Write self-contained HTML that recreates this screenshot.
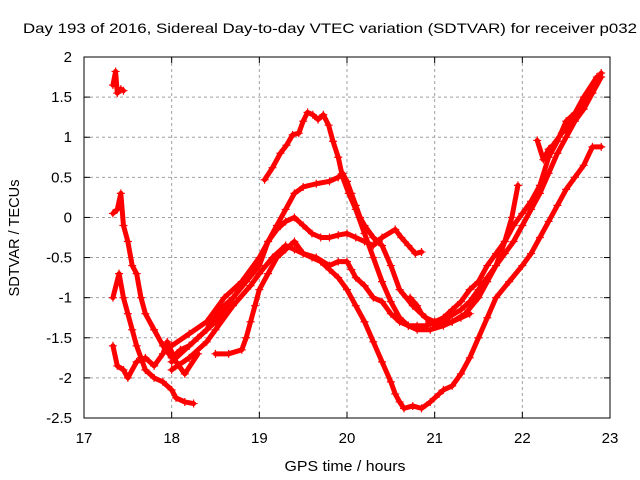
<!DOCTYPE html>
<html><head><meta charset="utf-8"><style>
body{margin:0;background:#fff}
svg{display:block;font-family:"Liberation Sans",sans-serif}
</style></head><body>
<svg id="chart" width="640" height="480">
<rect width="640" height="480" fill="#fff"/>
<text x="330" y="33" font-size="14" textLength="614" lengthAdjust="spacingAndGlyphs" text-anchor="middle">Day 193 of 2016, Sidereal Day-to-day VTEC variation (SDTVAR) for receiver p032</text>
<text x="345" y="471" font-size="15" textLength="121" lengthAdjust="spacingAndGlyphs" text-anchor="middle">GPS time / hours</text>
<text transform="translate(19,238) rotate(-90)" font-size="15" textLength="117" lengthAdjust="spacingAndGlyphs" text-anchor="middle">SDTVAR / TECUs</text>
<g id="grid"></g><g id="ticks"></g><g id="series"></g>
<rect x="84" y="57" width="526" height="361" fill="none" stroke="#000" stroke-width="1"/>
</svg>
<script>
const xTicks=[17,18,19,20,21,22,23];
const yTicks=[2,1.5,1,0.5,0,-0.5,-1,-1.5,-2,-2.5];
const yTickLabels=["2","1.5","1","0.5","0","-0.5","-1","-1.5","-2","-2.5"];
const s1x=[17.33,17.36,17.38,17.42,17.45];
const s1y=[1.65,1.82,1.55,1.6,1.58];
const s2x=[17.33,17.38,17.42,17.45,17.5,17.55,17.6,17.65,17.7,17.8,17.9,18.0,18.1,18.2,18.3,18.5,18.7];
const s2y=[0.05,0.1,0.3,-0.1,-0.3,-0.6,-0.7,-1.0,-1.2,-1.4,-1.6,-1.75,-1.65,-1.6,-1.5,-1.3,-1.0];
const s3x=[17.33,17.4,17.45,17.5,17.55,17.6,17.65,17.7,17.8,17.9,18.0,18.05,18.15,18.25];
const s3y=[-1.0,-0.7,-1.0,-1.2,-1.4,-1.6,-1.75,-1.9,-2.0,-2.05,-2.15,-2.25,-2.3,-2.32];
const s4x=[17.33,17.38,17.45,17.5,17.6,17.7,17.8,17.9,17.95,18.05,18.15,18.3];
const s4y=[-1.6,-1.85,-1.9,-2.0,-1.8,-1.75,-1.85,-1.7,-1.55,-1.8,-1.95,-1.7];
const s5x=[19.06,19.15,19.24,19.31,19.38,19.45,19.5,19.55,19.61,19.67,19.73,19.79,19.84,19.9,19.95,20.02,20.1,20.2,20.3,20.4,20.5,20.6,20.7,20.8,20.95,21.1,21.2,21.35,21.5,21.6,21.7,21.8,21.88,21.95];
const s5y=[0.47,0.62,0.8,0.9,1.03,1.05,1.2,1.31,1.28,1.22,1.28,1.15,0.95,0.75,0.5,0.3,0.1,-0.2,-0.5,-0.8,-1.05,-1.25,-1.35,-1.4,-1.4,-1.35,-1.3,-1.2,-1.0,-0.8,-0.6,-0.3,0.0,0.4];
const s6x=[18.0,18.2,18.4,18.5,18.7,18.85,19.0,19.1,19.2,19.3,19.4,19.5,19.65,19.8,19.9,19.95,20.0,20.05,20.1,20.15,20.2,20.3,20.4,20.5,20.6,20.75,20.9,21.0,21.15,21.3,21.4,21.5,21.6,21.7,21.8,21.9,22.0,22.1,22.2,22.3,22.4,22.5,22.6,22.7,22.8,22.9];
const s6y=[-1.8,-1.6,-1.4,-1.2,-1.0,-0.8,-0.6,-0.3,-0.1,0.1,0.3,0.38,0.42,0.45,0.5,0.55,0.45,0.3,0.15,0.0,-0.1,-0.25,-0.35,-0.6,-0.9,-1.1,-1.25,-1.3,-1.25,-1.15,-1.05,-0.9,-0.75,-0.6,-0.45,-0.3,-0.1,0.1,0.3,0.55,0.8,1.0,1.2,1.35,1.55,1.75];
const s7x=[18.0,18.2,18.4,18.6,18.8,19.0,19.1,19.2,19.3,19.4,19.5,19.6,19.7,19.8,19.9,20.0,20.1,20.2,20.3,20.4,20.55,20.62,20.7,20.78,20.85];
const s7y=[-1.6,-1.45,-1.3,-1.0,-0.8,-0.5,-0.3,-0.15,-0.05,0.0,-0.1,-0.2,-0.25,-0.25,-0.22,-0.2,-0.25,-0.3,-0.35,-0.25,-0.15,-0.25,-0.35,-0.45,-0.43];
const s8x=[18.5,18.65,18.8,18.85,18.9,18.95,19.0,19.1,19.2,19.3,19.4,19.5,19.6,19.7,19.8,19.9,20.0,20.1,20.2,20.3,20.4,20.5,20.55,20.6,20.65,20.75,20.85,20.95,21.05,21.1,21.2,21.3,21.4,21.5,21.6,21.7,21.85,22.0,22.1,22.2,22.3,22.4,22.5,22.6,22.7,22.8,22.9];
const s8y=[-1.7,-1.7,-1.65,-1.5,-1.3,-1.1,-0.9,-0.7,-0.5,-0.4,-0.3,-0.45,-0.5,-0.55,-0.65,-0.75,-0.9,-1.1,-1.3,-1.55,-1.8,-2.05,-2.2,-2.3,-2.38,-2.35,-2.38,-2.3,-2.2,-2.15,-2.1,-1.95,-1.75,-1.5,-1.25,-1.0,-0.8,-0.6,-0.45,-0.25,-0.05,0.15,0.35,0.5,0.65,0.88,0.88];
const s9x=[18.0,18.2,18.4,18.5,18.7,18.9,19.0,19.15,19.3,19.4,19.5,19.65,19.8,19.9,20.0,20.05,20.1,20.2,20.3,20.4,20.5,20.6,20.7,20.8,20.9,21.0,21.1,21.2,21.3,21.4,21.5,21.6,21.7,21.8,21.9,22.0,22.1,22.2,22.3,22.4,22.5,22.6,22.7,22.85];
const s9y=[-1.9,-1.75,-1.55,-1.4,-1.1,-0.85,-0.7,-0.5,-0.35,-0.4,-0.45,-0.5,-0.6,-0.55,-0.55,-0.65,-0.75,-0.85,-1.0,-1.05,-1.2,-1.3,-1.35,-1.35,-1.35,-1.3,-1.25,-1.15,-1.05,-0.9,-0.8,-0.6,-0.45,-0.3,-0.1,0.05,0.2,0.4,0.75,0.95,1.2,1.3,1.5,1.75];
const s10x=[20.72,20.8,20.85,20.95,21.0,21.1,21.2,21.3,21.4];
const s10y=[-1.0,-1.1,-1.2,-1.3,-1.35,-1.3,-1.3,-1.25,-1.2];
const s11x=[22.17,22.24,22.3,22.35,22.45,22.5,22.6,22.65,22.75,22.8,22.9];
const s11y=[0.96,0.72,0.85,0.9,1.05,1.1,1.25,1.35,1.5,1.6,1.8];
const allX=[s1x,s2x,s3x,s4x,s5x,s6x,s7x,s8x,s9x,s10x,s11x];
const allY=[s1y,s2y,s3y,s4y,s5y,s6y,s7y,s8y,s9y,s10y,s11y];
const NS="http://www.w3.org/2000/svg";
function xs(v){return 84+(v-17)*526/6;}
function ys(v){return 57+(2-v)*361/4.5;}
const grid=document.getElementById('grid'),ticks=document.getElementById('ticks'),ser=document.getElementById('series');
function mk(t,a,p){const e=document.createElementNS(NS,t);for(const k in a)e.setAttribute(k,a[k]);p.appendChild(e);return e;}
xTicks.forEach(t=>{
 const x=xs(t);
 if(t>17&&t<23){const g=mk('line',{x1:x,x2:x,y1:57,y2:418,stroke:'#a0a0a0','stroke-dasharray':'3,3'},grid);
 
 }
 mk('line',{x1:x,x2:x,y1:418,y2:412,stroke:'#000'},ticks);
 mk('line',{x1:x,x2:x,y1:57,y2:63,stroke:'#000'},ticks);
 const l=mk('text',{x:x,y:443,'font-size':15,'text-anchor':'middle'},ticks);l.textContent=t;
 
 
});
yTicks.forEach((t,i)=>{
 const y=ys(t);
 if(t<2&&t>-2.5){const g=mk('line',{x1:84,x2:610,y1:y,y2:y,stroke:'#a0a0a0','stroke-dasharray':'3,3'},grid);
 
 }
 mk('line',{x1:84,x2:90,y1:y,y2:y,stroke:'#000'},ticks);
 mk('line',{x1:610,x2:604,y1:y,y2:y,stroke:'#000'},ticks);
 const l=mk('text',{x:72,y:y+5,'font-size':15,'text-anchor':'end'},ticks);l.textContent=yTickLabels[i];
 
 
});
allX.forEach((X,si)=>{
 const Y=allY[si];
 const g=mk('g',{},ser);
 
 
 const pts=X.map((x,i)=>xs(x)+','+ys(Y[i])).join(' ');
 mk('polyline',{points:pts,fill:'none',stroke:'#f00','stroke-width':5,'stroke-linejoin':'round','stroke-linecap':'round'},g);
 X.forEach((x,i)=>{
  const px=xs(x),py=ys(Y[i]);
  const p=mk('path',{d:`M${px-4},${py}h8M${px},${py-4}v8`,stroke:'#f00','stroke-width':1.2},g);
  
  
 });
});
</script>
</body></html>
